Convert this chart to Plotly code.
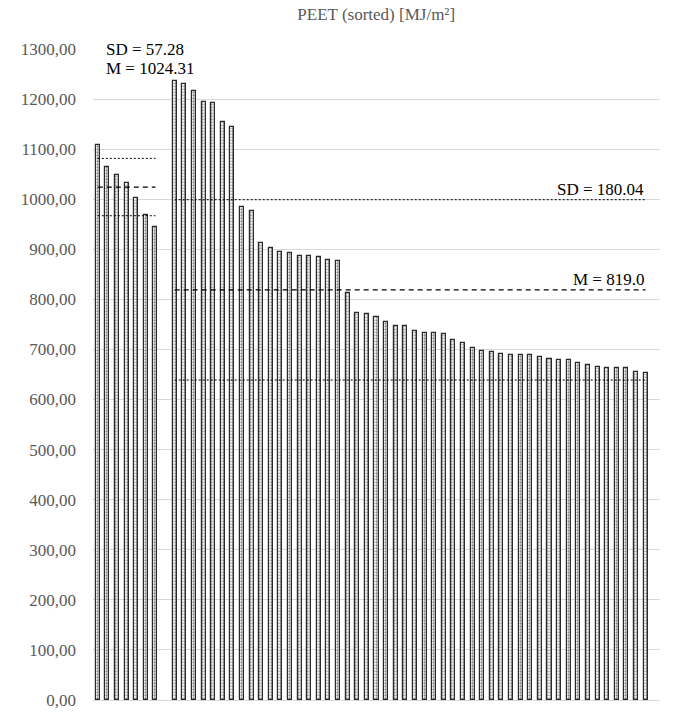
import plotly.graph_objects as go

# PEET values per case, sorted descending within each group [MJ/m²]
group_a = [1108, 1065, 1049, 1032, 1003, 969, 944]
group_b = [1236, 1230, 1216, 1195, 1193, 1154, 1144, 985, 976, 913,
           902, 895, 893, 887, 887, 885, 878, 876, 812, 773,
           771, 764, 755, 747, 746, 737, 733, 733, 730, 718,
           713, 702, 697, 694, 690, 688, 688, 688, 684, 680,
           679, 678, 673, 669, 664, 663, 663, 662, 656, 654]

# Group statistics (mean and standard deviation)
mean_a, sd_a = 1024.31, 57.28
mean_b, sd_b = 819.0, 180.04

# y-axis ticks
y_ticks = list(range(0, 1301, 100))

# category slots: group A, one empty slot, group B, one trailing empty slot
x_a = list(range(len(group_a)))
x_b = list(range(len(group_a) + 1, len(group_a) + 1 + len(group_b)))
n_slots = len(group_a) + 1 + len(group_b) + 1

SERIF = "Liberation Serif, Times New Roman, serif"

fig = go.Figure()

fig.add_trace(go.Bar(
    x=x_a + x_b,
    y=group_a + group_b,
    width=0.42,
    marker=dict(
        color="white",
        line=dict(color="#2a2a2a", width=1.2),
        pattern=dict(shape=".", size=3, solidity=0.45, fgcolor="#111111", bgcolor="white"),
    ),
    showlegend=False,
    hoverinfo="y",
))


def stat_lines(xs, mean, sd):
    x0, x1 = xs[0], xs[-1]
    for val, dash, w in ((mean + sd, "2px,2px", 1), (mean, "5px,4px", 1.3), (mean - sd, "2px,2px", 1)):
        fig.add_trace(go.Scatter(
            x=[x0, x1], y=[val, val], mode="lines",
            line=dict(color="black", width=w, dash=dash),
            showlegend=False, hoverinfo="skip",
        ))


stat_lines(x_a, mean_a, sd_a)
stat_lines(x_b, mean_b, sd_b)

ann_font = dict(family=SERIF, size=17, color="black")

fig.add_annotation(x=0.6, y=1300, xref="x", yref="y", text=f"SD = {sd_a}",
                   showarrow=False, xanchor="left", yanchor="middle", font=ann_font)
fig.add_annotation(x=0.6, y=1262, xref="x", yref="y", text=f"M = {mean_a}",
                   showarrow=False, xanchor="left", yanchor="middle", font=ann_font)
fig.add_annotation(x=x_b[-1], y=mean_b + sd_b, xref="x", yref="y", text=f"SD = {sd_b}",
                   showarrow=False, xanchor="right", yanchor="bottom", yshift=-1, font=ann_font)
fig.add_annotation(x=x_b[-1], y=mean_b, xref="x", yref="y", text=f"M = {mean_b}",
                   showarrow=False, xanchor="right", yanchor="bottom", yshift=-1, font=ann_font)

fig.update_layout(
    width=681, height=722,
    margin=dict(l=93, r=21, t=49, b=12),
    paper_bgcolor="white", plot_bgcolor="white",
    separators=",.",
    font=dict(family=SERIF),
    title=dict(text="PEET (sorted) [MJ/m²]", x=0.5525, xanchor="center",
               y=1 - 14 / 722, yanchor="middle",
               font=dict(family=SERIF, size=17, color="#595959")),
    xaxis=dict(range=[-0.5, n_slots - 0.5], showticklabels=False, ticks="",
               showgrid=False, zeroline=False, showline=False),
    yaxis=dict(range=[0, 1300], tickvals=y_ticks, tickformat=".2f",
               showgrid=True, gridcolor="#d9d9d9", gridwidth=1,
               zeroline=True, zerolinecolor="#d9d9d9", zerolinewidth=1,
               showline=False, ticks="", ticklabelstandoff=16,
               tickfont=dict(family=SERIF, size=17, color="#595959")),
    bargap=0,
)

fig.write_html("out.html")
